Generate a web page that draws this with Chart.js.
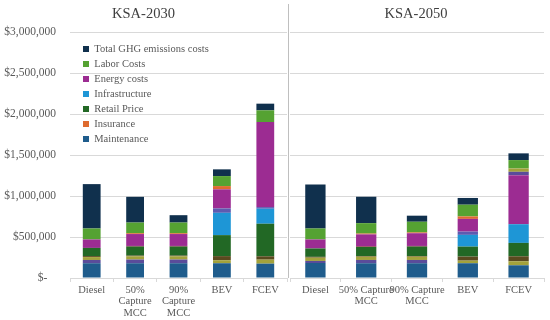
<!DOCTYPE html>
<html><head><meta charset="utf-8">
<script src="https://cdn.jsdelivr.net/npm/chart.js@4.4.1/dist/chart.umd.min.js"></script>
<style>
html,body{margin:0;padding:0;background:#fff;}
#wrap{position:relative;width:550px;height:320px;overflow:hidden;background:#fff;}
#c1{position:absolute;left:0;top:0;}
#c2{position:absolute;left:288px;top:0;}
</style></head><body>
<div id="wrap"><canvas id="c1" width="288" height="320"></canvas><canvas id="c2" width="262" height="320"></canvas></div>
<script>
// ---------- data ----------
const panelTitles = ['KSA-2030', 'KSA-2050'];
const categories2030 = ['Diesel', ['50%', 'Capture', 'MCC'], ['90%', 'Capture', 'MCC'], 'BEV', 'FCEV'];
const categories2050 = ['Diesel', ['50% Capture', 'MCC'], ['90% Capture', 'MCC'], 'BEV', 'FCEV'];
const yTickValues = [0, 500000, 1000000, 1500000, 2000000, 2500000, 3000000];

// each array: five 2030 values, then five 2050 values (Diesel, 50% MCC, 90% MCC, BEV, FCEV)
const maintenance     = [180000, 180000, 180000, 180000, 175000,  183000, 180000, 180000, 180000, 155000];
const bandPurpleLow   = [ 40000,  45000,  45000,      0,      0,   25000,  40000,  40000,      0,      0];
const bandOliveLow    = [ 35000,  40000,  40000,  37000,  49000,   40000,  40000,  40000,  32000,  49000];
const bandBrownLow    = [ 12000,   8000,   8000,  50000,  41000,   10000,   8000,   8000,  49000,  61000];
const retailPrice     = [100000, 110000, 110000, 256000, 397000,  102000, 110000, 115000, 122000, 163000];
const bandRed         = [     0,   8000,   8000,      0,      0,       0,   8000,   8000,      0,      0];
const infrastructure  = [     0,      0,      0, 272000, 183000,       0,      0,      0, 143000, 228000];
const bandPurpleMid   = [     0,      0,      0,  54000,  20000,       0,      0,      0,  40000,      0];
const energyCosts     = [103000, 145000, 145000, 232000,1037000,  110000, 146000, 155000, 155000, 598000];
const bandPurpleHigh  = [     0,      0,      0,      0,      0,       0,      0,      0,      0,  41000];
const insurance       = [     0,  10000,  10000,  40000,      0,       0,  10000,  10000,  30000,      0];
const bandOliveHigh   = [     0,      0,      0,      0,      0,       0,      0,      0,      0,  41000];
const laborCosts      = [134000, 130000, 130000, 122000, 143000,  134000, 127000, 130000, 143000, 102000];
const ghgCosts        = [541000, 314000,  90000,  82000,  81000,  537000, 322000,  74000,  82000,  82000];

const legendOrder = ['Total GHG emissions costs', 'Labor Costs', 'Energy costs', 'Infrastructure', 'Retail Price', 'Insurance', 'Maintenance'];

// stacking order bottom -> top
const series = [
  { label: 'Maintenance', color: '#1F5C8C', values: maintenance },
  { label: 'band-purple-low', color: '#5A4C9A', values: bandPurpleLow },
  { label: 'band-olive-low', color: '#A3A23B', values: bandOliveLow },
  { label: 'band-brown-low', color: '#5A4A1F', values: bandBrownLow },
  { label: 'Retail Price', color: '#226825', values: retailPrice },
  { label: 'band-red', color: '#7E2B35', values: bandRed },
  { label: 'Infrastructure', color: '#1E96D6', values: infrastructure },
  { label: 'band-purple-mid', color: '#5E5AB0', values: bandPurpleMid },
  { label: 'Energy costs', color: '#9C2C92', values: energyCosts },
  { label: 'band-purple-high', color: '#5A4C9A', values: bandPurpleHigh },
  { label: 'Insurance', color: '#DE6B2F', values: insurance },
  { label: 'band-olive-high', color: '#A3A23B', values: bandOliveHigh },
  { label: 'Labor Costs', color: '#55A232', values: laborCosts },
  { label: 'Total GHG emissions costs', color: '#10304D', values: ghgCosts }
];

// ---------- chart ----------
const FONT = "'Liberation Serif', 'Times New Roman', serif";
const GRID = '#D9D9D9';
const TXT = '#595959';
Chart.defaults.font.family = FONT;
Chart.defaults.color = TXT;

function makeDatasets(offset, catPct) {
  return series.map(s => ({
    label: s.label,
    data: s.values.slice(offset, offset + 5),
    backgroundColor: s.color,
    borderWidth: 0,
    barPercentage: 1,
    categoryPercentage: catPct
  }));
}

const legendShift = {
  id: 'legendShift',
  afterLayout(chart) {
    const lg = chart.legend;
    if (!lg || !lg.options.display) return;
    const w = lg.width;
    lg.left = 78.5; lg.top = 39.25;
    lg.right = lg.left + w; lg.bottom = chart.chartArea.bottom;
    lg.width = w; lg.height = lg.bottom - lg.top;
  }
};

const divider = {
  id: 'divider',
  afterDraw(chart) {
    const ctx = chart.ctx;
    ctx.save();
    ctx.strokeStyle = '#BFBFBF';
    ctx.lineWidth = 1;
    ctx.beginPath();
    ctx.moveTo(0.5, 4);
    ctx.lineTo(0.5, chart.chartArea.bottom);
    ctx.stroke();
    ctx.restore();
  }
};

function makeOptions(titleText, left, showLegend, padRight, yWidth) {
  return {
    responsive: false,
    animation: false,
    devicePixelRatio: 1,
    layout: { padding: { left: 0, right: padRight, top: 0, bottom: 0 } },
    plugins: {
      title: {
        display: true, text: titleText, color: '#404040',
        font: { family: FONT, size: 14.5, weight: 'normal', lineHeight: 1.2 },
        padding: { top: 5, bottom: 9.6 }
      },
      legend: {
        display: showLegend,
        position: 'chartArea',
        align: 'start',
        labels: {
          boxWidth: 6, boxHeight: 6, padding: 4.5, color: TXT,
          font: { family: FONT, size: 10.5, weight: 'normal' },
          filter: item => legendOrder.includes(item.text),
          sort: (a, b) => legendOrder.indexOf(a.text) - legendOrder.indexOf(b.text)
        }
      },
      tooltip: { enabled: false }
    },
    scales: {
      x: {
        stacked: true,
        grid: { display: true, drawOnChartArea: false, offset: true, tickLength: 4, color: GRID },
        border: { color: GRID },
        ticks: {
          color: TXT, padding: 2, autoSkip: false, maxRotation: 0, minRotation: 0,
          font: { family: FONT, size: 10.5, lineHeight: 1.1 }
        },
        afterFit: s => { s.height = 42; }
      },
      y: {
        stacked: true, min: 0, max: 3000000,
        afterBuildTicks: s => { s.ticks = yTickValues.map(v => ({ value: v })); },
        grid: { color: GRID, drawTicks: false },
        border: { display: false },
        ticks: {
          display: left, color: TXT, padding: 14,
          font: { family: FONT, size: 11.5 },
          callback: v => v === 0 ? '$-   ' : '$' + Number(v).toLocaleString('en-US')
        },
        afterFit: s => { s.width = yWidth; }
      }
    }
  };
}

new Chart(document.getElementById('c1'), {
  type: 'bar',
  data: { labels: categories2030, datasets: makeDatasets(0, 0.41) },
  options: makeOptions(panelTitles[0], true, true, 1, 70),
  plugins: [legendShift]
});

new Chart(document.getElementById('c2'), {
  type: 'bar',
  data: { labels: categories2050, datasets: makeDatasets(5, 0.4) },
  options: makeOptions(panelTitles[1], false, false, 6, 2),
  plugins: [divider]
});
</script>
</body></html>
